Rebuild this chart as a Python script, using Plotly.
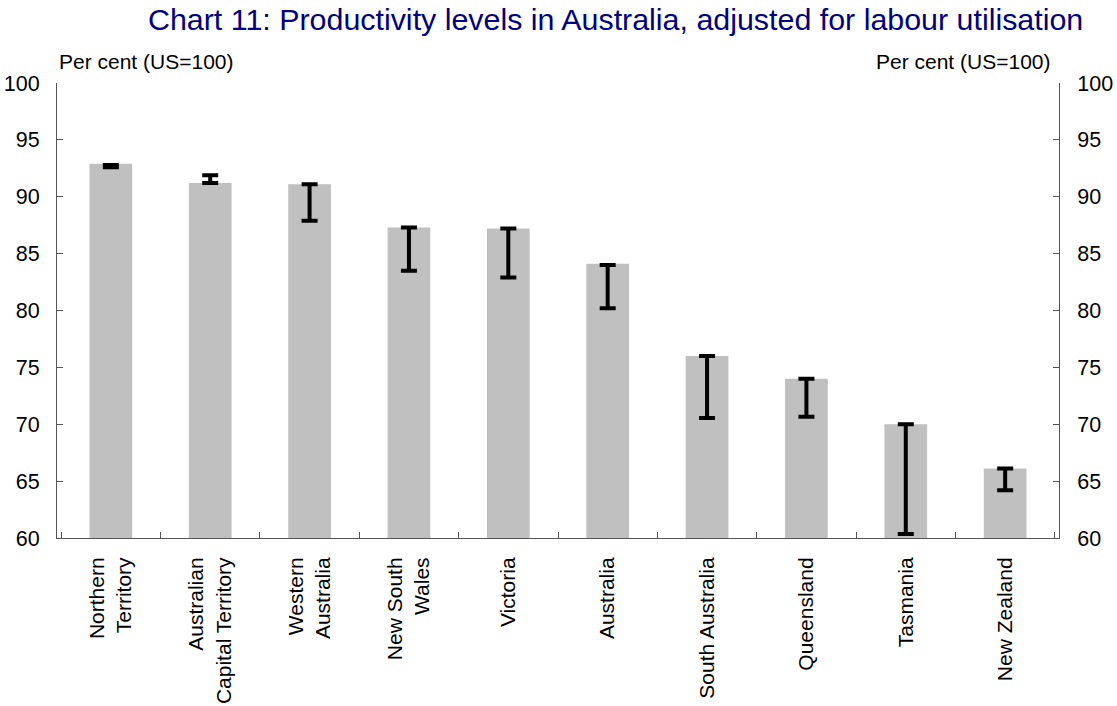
import plotly.graph_objects as go

categories = ["Northern<br>Territory", "Australian<br>Capital Territory", "Western<br>Australia",
              "New South<br>Wales", "Victoria", "Australia", "South Australia",
              "Queensland", "Tasmania", "New Zealand"]
values = [92.9, 91.2, 91.1, 87.3, 87.2, 84.1, 76.0, 74.0, 70.0, 66.1]
err_high = [92.8, 91.9, 91.1, 87.3, 87.2, 84.0, 76.0, 74.0, 70.0, 66.1]
err_low = [92.6, 91.2, 87.9, 83.5, 82.9, 80.2, 70.55, 70.65, 60.35, 64.2]
y_ticks = [60, 65, 70, 75, 80, 85, 90, 95, 100]

font_family = "Liberation Sans, Arial, sans-serif"
axis_col = "#555555"

W, H = 1117, 706

mid = [(h + l) / 2 for h, l in zip(err_high, err_low)]
half = [(h - l) / 2 for h, l in zip(err_high, err_low)]

fig = go.Figure()
fig.add_trace(go.Bar(x=categories, y=values, marker=dict(color="#C0C0C0", line=dict(width=0)),
                     width=0.43, base=0, showlegend=False, hoverinfo="skip"))
fig.add_trace(go.Scatter(x=categories, y=mid, mode="markers", marker=dict(size=0.1, color="rgba(0,0,0,0)"),
                         error_y=dict(type="data", array=half, symmetric=True, color="black",
                                      thickness=4, width=8),
                         showlegend=False, hoverinfo="skip"))
fig.add_trace(go.Scatter(x=categories, y=values, yaxis="y2", mode="markers",
                         marker=dict(opacity=0), showlegend=False, hoverinfo="skip"))

yax = dict(range=[60, 100], tickvals=y_ticks, ticks="inside", ticklen=6, tickcolor=axis_col,
           showline=True, linecolor=axis_col, linewidth=1, showgrid=False, zeroline=False,
           automargin=False, tickfont=dict(size=21.5, color="black", family=font_family))
fig.update_layout(
    width=W, height=H,
    margin=dict(l=57, r=58, t=83, b=168),
    plot_bgcolor="white", paper_bgcolor="white",
    title=dict(text="Chart 11: Productivity levels in Australia, adjusted for labour utilisation",
               x=148 / W, xanchor="left", xref="container",
               y=1 - 19 / H, yanchor="middle",
               font=dict(size=30.4, color="#000080", family=font_family)),
    xaxis=dict(tickangle=-90, ticks="inside", ticklen=6, tickcolor=axis_col, tickson="boundaries",
               showline=True, linecolor=axis_col, linewidth=1, showgrid=False, automargin=False,
               ticklabelstandoff=10,
               tickfont=dict(size=21, color="black", family=font_family)),
    yaxis=dict(side="left", ticklabelstandoff=12, **yax),
    yaxis2=dict(side="right", overlaying="y", ticklabelstandoff=13, **yax),
    bargap=0.57,
)
fig.add_annotation(text="Per cent (US=100)", xref="paper", yref="paper", x=0.0, y=1.0, yshift=8,
                   xanchor="left", yanchor="bottom", showarrow=False,
                   font=dict(size=21, color="black", family=font_family))
fig.add_annotation(text="Per cent (US=100)", xref="paper", yref="paper", x=0.994, y=1.0, yshift=8,
                   xanchor="right", yanchor="bottom", showarrow=False,
                   font=dict(size=21, color="black", family=font_family))
fig.write_html("out.html", config={"displayModeBar": False},
               post_script="document.body.style.margin='0px';")
